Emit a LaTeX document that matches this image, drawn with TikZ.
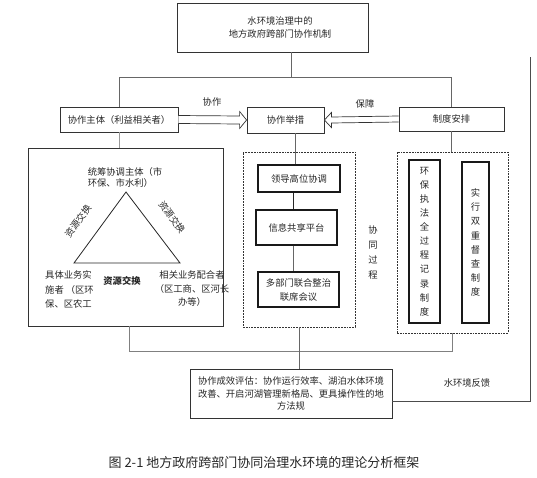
\documentclass[tikz,border=0pt]{standalone}
\usepackage{fontspec}
\setmainfont{Noto Sans CJK SC}
\usetikzlibrary{calc}
\begin{document}
\begin{tikzpicture}[x=1pt,y=-1pt,
  every node/.style={inner sep=0pt,font=\fontsize{9.3}{12}\selectfont,text=black!85},
  boxnode/.style={draw=black!80,line width=0.8pt,minimum width=#1},
  inbox/.style={draw=black!90,line width=1.1pt},
  dashbox/.style={draw=black!80,line width=0.7pt,dash pattern=on 1.8pt off 1pt},
  conn/.style={draw=black!60,line width=0.8pt},
  hollow/.style={draw=black!80,line width=0.7pt,fill=white},
  vtext/.style={align=center,font=\fontsize{9.3}{14.1}\selectfont}]
\useasboundingbox (0,0) rectangle (537,477);

% boxes
\node[boxnode=191pt,minimum height=49pt] (top) at (272.5,27.5) {};
\node[align=center,font=\fontsize{9.3}{13}\selectfont] (toptext) at (280,27) {水环境治理中的\\地方政府跨部门协作机制};
\node[boxnode=118pt,minimum height=25pt] (xz) at (119,119.5) {协作主体（利益相关者）};
\node[boxnode=77pt,minimum height=26pt] (jc) at (285.5,120) {协作举措};
\node[boxnode=105pt,minimum height=24pt] (zd) at (451.5,119) {制度安排};

\node[boxnode=195pt,minimum height=178pt] (lb) at (125.5,237) {};
\node[dashbox,minimum width=112pt,minimum height=175pt] (mb) at (299,239.5) {};
\node[dashbox,minimum width=111pt,minimum height=181pt] (rb) at (452.5,242.5) {};

\node[inbox,minimum width=82pt,minimum height=27pt] (ld) at (299,178.5) {领导高位协调};
\node[inbox,minimum width=81pt,minimum height=35pt] (xx) at (296.5,227.5) {信息共享平台};
\node[inbox,minimum width=81pt,minimum height=35pt,align=center,font=\fontsize{9.3}{14}\selectfont] (dbm) at (298.5,289.5) {多部门联合整治\\联席会议};

\node[inbox,minimum width=31pt,minimum height=163pt,vtext] (hb) at (424.5,241.5) {环\\保\\执\\法\\全\\过\\程\\记\\录\\制\\度};
\node[inbox,minimum width=27pt,minimum height=161pt,vtext] (sx) at (475.5,242.5) {实\\行\\双\\重\\督\\查\\制\\度};

\node[boxnode=202pt,minimum height=49pt,align=center,font=\fontsize{9.3}{12.2}\selectfont] (ev) at (291,393.5) {协作成效评估：协作运行效率、湖泊水体环境\\改善、开启河湖管理新格局、更具操作性的地\\方法规};

% triangle
\coordinate (apex) at (126,192);
\coordinate (bl) at (74,263);
\coordinate (br) at (180,263);
\draw[black!85,line width=0.8pt] (apex) -- (bl) -- (br) -- cycle;
\node[align=left,font=\fontsize{9.3}{11.7}\selectfont] (tt) at (125,177.5) {统筹协调主体（市\\环保、市水利）};
\node[align=left,anchor=west,font=\fontsize{9.3}{14.5}\selectfont] (tbl) at (45,289.5) {具体业务实\\施者 （区环\\保、区农工};
\node[align=center,font=\fontsize{9.3}{13.5}\selectfont] (tbr) at (192,289) {相关业务配合者\\（区工商、区河长\\办等）};
\node[font=\fontsize{9.3}{12}\bfseries] (ex3) at (122,281) {资源交换};
\node[rotate=54] (ex1) at (78,221) {资源交换};
\node[rotate=-54] (ex2) at (172,217) {资源交换};

% labels
\node (lab1) at (212,102) {协作};
\node (lab2) at (365,104) {保障};
\node[align=center,font=\fontsize{9.3}{15}\selectfont] (lab3) at (373,252.5) {协\\同\\过\\程};
\node (lab4) at (467,383) {水环境反馈};
\node[font=\fontsize{13}{15}\selectfont] (cap) at (264,463) {图 2-1 地方政府跨部门协同治理水环境的理论分析框架};

% connectors
\coordinate (busL) at (119,77);
\coordinate (busM) at (291,77);
\coordinate (busR) at (451.5,77);
\draw[conn] (top.south -| busM) -- (busM);
\draw[conn] (busL) -- (busR);
\draw[conn] (busL) -- (xz.north);
\draw[conn] (busR) -- (zd.north);
\draw[conn,draw=black!40] (xz.south -| busL) -- (lb.north -| busL);
\draw[conn] ($(jc.south)+(9.5,0)$) -- ($(ld.north)+(-4,0)$);
\draw[conn,draw=black!85] ($(ld.south)+(-6,0)$) -- ($(xx.north)+(-3.5,0)$);
\draw[conn] ($(xx.south)+(-3.5,0)$) -- ($(dbm.north)+(-5.5,0)$);
\draw[conn] (zd.south) -- (rb.north -| zd.south);

\coordinate (bbL) at (129,351);
\coordinate (bbR) at (452,351);
\draw[conn,draw=black!50] (lb.south -| bbL) -- (bbL) -- (bbR) -- (rb.south -| bbR);
\draw[conn] (mb.south) -- (ev.north -| mb.south);

\coordinate (fbB) at (530,401);
\coordinate (fbT) at (530,57);
\draw[conn,draw=black!70] (ev.east |- fbB) -- (fbB) -- (fbT);

% hollow arrows
\draw[hollow] ($(xz.east)+(0,-4)$) -- ($(jc.west)+(-7,-4)$) -- ($(jc.west)+(-7,-8.5)$) -- (jc.west) -- ($(jc.west)+(-7,8.5)$) -- ($(jc.west)+(-7,4)$) -- ($(xz.east)+(0,4)$);
\draw[hollow] ($(zd.west)+(0,-3)$) -- ($(jc.east)+(7,-3)$) -- ($(jc.east)+(7,-7.5)$) -- (jc.east) -- ($(jc.east)+(7,7.5)$) -- ($(jc.east)+(7,3)$) -- ($(zd.west)+(0,3)$);
\end{tikzpicture}
\end{document}
